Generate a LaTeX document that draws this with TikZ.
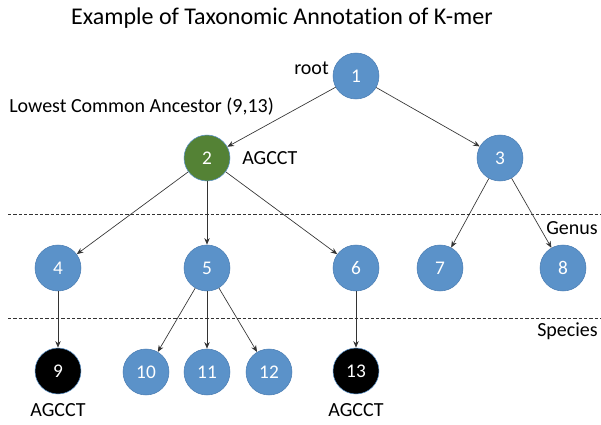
\documentclass[tikz,border=0pt]{standalone}
\usepackage{fontspec}
\setmainfont[Ligatures={NoCommon}]{Carlito}
\usetikzlibrary{arrows.meta}
\definecolor{taxblue}{HTML}{5B92C9}
\definecolor{taxedge}{HTML}{4A7DB3}
\definecolor{taxgreen}{HTML}{548235}
\definecolor{linegray}{HTML}{333333}
\begin{document}
\begin{tikzpicture}[x=0.75pt,y=-0.75pt,
  taxon/.style={circle,minimum size=34.5pt,inner sep=0pt,fill=taxblue,draw=taxedge,line width=0.4pt,text=white,font=\fontsize{14.5}{17}\selectfont},
  lca/.style={taxon,fill=taxgreen,draw=taxblue},
  hit/.style={taxon,fill=black,draw=taxblue},
  link/.style={draw=linegray,line width=0.5pt,-{Stealth[length=5pt,width=4pt]}},
  rank/.style={draw=linegray,line width=0.5pt,dash pattern=on 2.5pt off 1.5pt},
  lbl/.style={font=\fontsize{15}{18}\selectfont,inner sep=0pt}]
\useasboundingbox (0,0) rectangle (601,425);
% title
\node[font=\fontsize{18}{22}\selectfont] (title) at (282,18) {Example of Taxonomic Annotation of K-mer};
% rank separators
\coordinate (g1) at (8,214); \coordinate (g2) at (601,214);
\coordinate (s1) at (8,318); \coordinate (s2) at (601,318);
\draw[rank] (g1) -- (g2);
\draw[rank] (s1) -- (s2);
\node[lbl,anchor=east] (genus) at (598,228) {Genus};
\node[lbl,anchor=east] (species) at (598,331) {Species};
% taxa
\node[taxon] (n1) at (356,76) {1};
\node[lca] (n2) at (207,158) {2};
\node[taxon] (n3) at (500,158) {3};
\node[taxon] (n4) at (58,268) {4};
\node[taxon] (n5) at (207,268) {5};
\node[taxon] (n6) at (356,268) {6};
\node[taxon] (n7) at (440,268) {7};
\node[taxon] (n8) at (563,268) {8};
\node[hit] (n9) at (58,371) {9};
\node[taxon] (n10) at (146,372) {10};
\node[taxon] (n11) at (207,372) {11};
\node[taxon] (n12) at (269,372) {12};
\node[hit] (n13) at (356,371) {13};
% labels
\node[lbl,anchor=east] (root) at (329,68) {root};
\node[lbl,anchor=west] (lcalbl) at (9,107) {Lowest Common Ancestor (9,13)};
\node[lbl,anchor=west] (k2) at (242,158) {AGCCT};
\node[lbl] (k9) at (58,410) {AGCCT};
\node[lbl] (k13) at (356,410) {AGCCT};
% edges
\draw[link] (n1) -- (n2);
\draw[link] (n1) -- (n3);
\draw[link] (n2) -- (n4);
\draw[link] (n2) -- (n5);
\draw[link] (n2) -- (n6);
\draw[link] (n3) -- (n7);
\draw[link] (n3) -- (n8);
\draw[link] (n4) -- (n9);
\draw[link] (n5) -- (n10);
\draw[link] (n5) -- (n11);
\draw[link] (n5) -- (n12);
\draw[link] (n6) -- (n13);
\end{tikzpicture}
\end{document}
